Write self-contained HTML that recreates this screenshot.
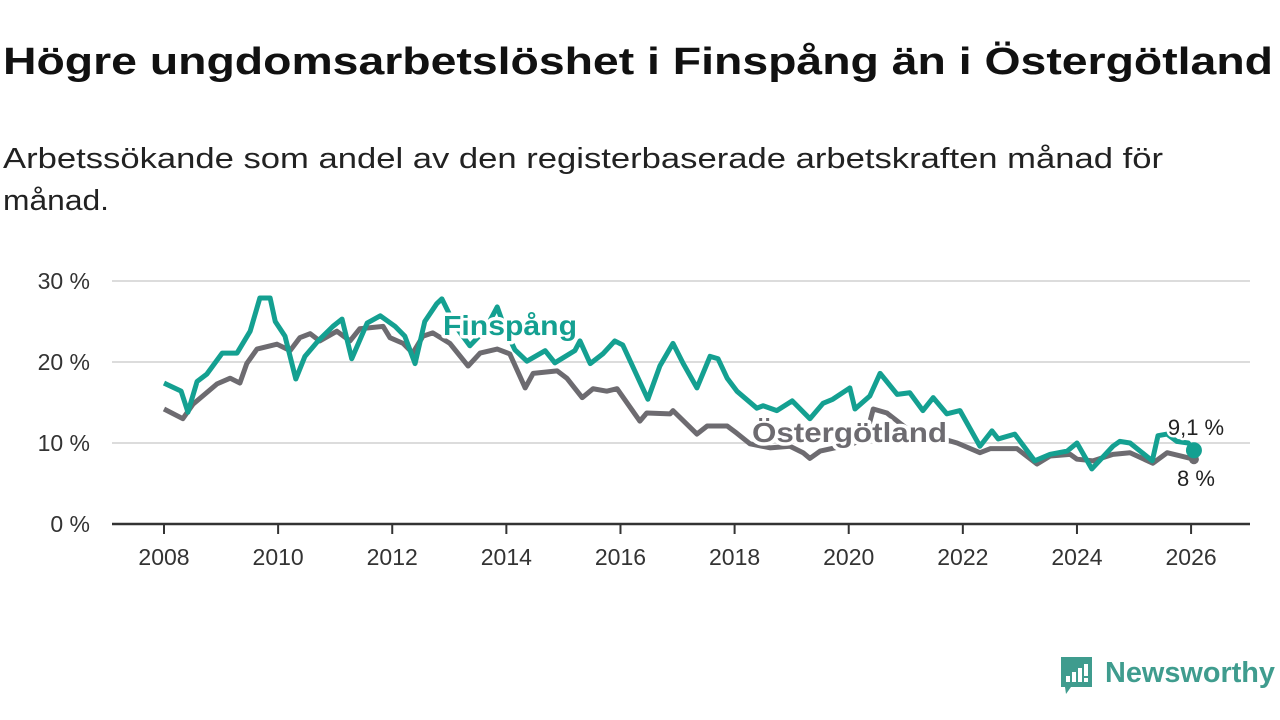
<!DOCTYPE html>
<html><head><meta charset="utf-8"><style>
html,body{margin:0;padding:0;background:#fff;}
svg{display:block;font-family:"Liberation Sans",sans-serif;}
</style></head><body>
<svg id="chart" width="1280" height="720" viewBox="0 0 1280 720">
<text x="3" y="74" font-size="38" font-weight="bold" fill="#111" textLength="1270" lengthAdjust="spacingAndGlyphs">Högre ungdomsarbetslöshet i Finspång än i Östergötland</text>
<text x="3" y="168" font-size="29" fill="#222" textLength="1160" lengthAdjust="spacingAndGlyphs">Arbetssökande som andel av den registerbaserade arbetskraften månad för</text>
<text x="3" y="210" font-size="29" fill="#222" textLength="106" lengthAdjust="spacingAndGlyphs">månad.</text>
<g id="grid"></g><g id="axes"></g><g id="lines"></g><g id="labels"></g>
<g>
<path d="M1061 657 h31 v30 h-21 l-5 7 l-1 -7 h-4 z" fill="#3f9c8e"/>
<rect x="1066" y="676" width="4" height="6" fill="#fff"/><rect x="1072" y="672" width="4" height="10" fill="#fff"/><rect x="1078" y="668" width="4" height="14" fill="#fff"/><rect x="1084" y="664" width="4" height="12" fill="#fff"/><rect x="1084" y="678" width="4" height="4" fill="#fff"/>
<text x="1105" y="682" font-size="29" font-weight="bold" fill="#3f9c8e" textLength="170" lengthAdjust="spacingAndGlyphs">Newsworthy</text>
</g>
</svg>
<script>
const yTicks=[0,10,20,30];
const xTicks=[2008,2010,2012,2014,2016,2018,2020,2022,2024,2026];
const finDates=[
2008.00,2008.30,2008.42,2008.58,2008.75,2009.02,2009.28,2009.51,2009.68,2009.86,
2009.95,2010.12,2010.31,2010.47,2010.70,2010.96,2011.12,2011.29,2011.56,2011.79,
2012.05,2012.22,2012.40,2012.57,2012.78,2012.87,2013.10,2013.36,2013.63,2013.84,
2013.98,2014.15,2014.36,2014.68,2014.85,2015.20,2015.29,2015.47,2015.69,2015.90,
2016.04,2016.48,2016.69,2016.92,2017.10,2017.34,2017.57,2017.71,2017.87,2018.04,
2018.39,2018.50,2018.74,2019.01,2019.32,2019.55,2019.72,2020.02,2020.11,2020.37,
2020.55,2020.85,2021.07,2021.30,2021.48,2021.72,2021.95,2022.30,2022.51,2022.62,
2022.91,2023.26,2023.53,2023.83,2024.00,2024.26,2024.63,2024.75,2024.93,2025.32,
2025.42,2025.58,2025.75,2025.95,2026.05];
const finVals=[
17.4,16.4,13.8,17.6,18.5,21.1,21.1,23.8,27.9,27.9,
25.0,23.2,17.9,20.7,22.6,24.4,25.3,20.4,24.8,25.7,
24.4,23.2,19.8,25.0,27.2,27.8,24.5,22.0,24.0,26.8,
24.0,21.5,20.1,21.4,19.9,21.4,22.6,19.8,21.0,22.6,
22.1,15.4,19.5,22.3,19.8,16.8,20.7,20.4,18.0,16.4,
14.3,14.6,14.0,15.2,13.0,14.9,15.4,16.8,14.2,15.8,
18.6,16.0,16.2,14.0,15.6,13.6,14.0,9.6,11.5,10.5,
11.1,7.8,8.6,9.0,10.0,6.8,9.6,10.2,10.0,7.8,
10.9,11.1,10.2,10.0,9.1];
const ostDates=[
2008.00,2008.33,2008.51,2008.93,2009.16,2009.33,2009.45,2009.63,2009.98,2010.21,
2010.38,2010.56,2010.73,2011.03,2011.26,2011.43,2011.84,2011.96,2012.19,2012.36,
2012.54,2012.71,2013.01,2013.33,2013.54,2013.84,2014.06,2014.33,2014.47,2014.89,
2015.06,2015.33,2015.52,2015.76,2015.94,2016.34,2016.46,2016.87,2016.92,2017.34,
2017.52,2017.87,2018.04,2018.27,2018.62,2018.97,2019.20,2019.32,2019.50,2020.02,
2020.29,2020.43,2020.67,2021.07,2021.51,2021.90,2022.30,2022.48,2022.65,2022.95,
2023.30,2023.53,2023.88,2024.00,2024.28,2024.63,2024.93,2025.33,2025.58,2026.05];
const ostVals=[
14.2,13.0,14.8,17.3,18.0,17.4,19.8,21.6,22.2,21.4,
23.0,23.5,22.6,23.8,22.6,24.1,24.4,23.0,22.3,21.1,
23.2,23.6,22.3,19.5,21.1,21.6,21.0,16.8,18.6,18.9,
18.0,15.6,16.7,16.4,16.7,12.7,13.7,13.6,14.0,11.1,
12.1,12.1,11.2,9.9,9.4,9.6,8.8,8.1,9.0,9.8,
10.5,14.2,13.7,11.5,10.8,10.0,8.8,9.3,9.3,9.3,
7.4,8.4,8.6,8.0,7.8,8.6,8.8,7.5,8.8,8.0];
const NS="http://www.w3.org/2000/svg";
const x=y=>164+(y-2008)*57.06;
const yv=v=>524-v*8.1;
function mk(tag,attrs,parent){const e=document.createElementNS(NS,tag);for(const k in attrs)e.setAttribute(k,attrs[k]);parent.appendChild(e);return e;}
const grid=document.getElementById('grid'),axes=document.getElementById('axes'),lines=document.getElementById('lines'),labels=document.getElementById('labels');
yTicks.forEach(t=>{
 if(t>0){const g=mk('line',{x1:112,x2:1250,y1:yv(t),y2:yv(t),stroke:'#dcdcdc','stroke-width':2},grid);
 
 }
 const l=mk('text',{x:90,y:yv(t)+8,'font-size':23,'text-anchor':'end',fill:'#333'},axes);l.textContent=t+' %';
 
 
});
const ax=mk('line',{x1:112,x2:1250,y1:524,y2:524,stroke:'#333','stroke-width':2.5},axes);


xTicks.forEach(t=>{
 mk('line',{x1:x(t),x2:x(t),y1:524,y2:534,stroke:'#333','stroke-width':2},axes);
 const l=mk('text',{x:x(t),y:565,'font-size':23,'text-anchor':'middle',fill:'#333'},axes);l.textContent=t;
 
 
});
function series(d,v,color,name){
 const p=mk('polyline',{points:d.map((t,i)=>x(t)+','+yv(v[i])).join(' '),fill:'none',stroke:color,'stroke-width':5,'stroke-linejoin':'round'},lines);
 
 
}
series(ostDates,ostVals,'#6d6b70','line-ostergotland');
series(finDates,finVals,'#14a091','line-finspang');
function lab(txt,xx,yy,col,name,sz,bold,anchor,len){
 const a={x:xx,y:yy,'font-size':sz,'font-weight':bold?'bold':'normal',fill:col,stroke:'#fff','stroke-width':bold?7:5,'paint-order':'stroke','text-anchor':anchor||'start','stroke-linejoin':'round'};
 if(len){a.textLength=len;a.lengthAdjust='spacingAndGlyphs';}
 const t=mk('text',a,labels);
 t.textContent=txt;
 
 
}
lab('Finspång',443,335,'#14a091','label-finspang',28,true,'start',134);
lab('Östergötland',752,442,'#6d6b70','label-ostergotland',28,true,'start',195);
const lo=ostVals.length-1,lf=finVals.length-1;
const d1=mk('circle',{cx:x(ostDates[lo]),cy:yv(ostVals[lo]),r:5,fill:'#6d6b70'},labels);


const d2=mk('circle',{cx:x(finDates[lf]),cy:yv(finVals[lf]),r:8,fill:'#14a091'},labels);


lab(String(finVals[lf]).replace('.',',')+' %',1196,435,'#222','end-value-finspang',22,false,'middle');
lab(String(ostVals[lo]).replace('.',',')+' %',1196,486,'#222','end-value-ostergotland',22,false,'middle');
</script>
</body></html>
